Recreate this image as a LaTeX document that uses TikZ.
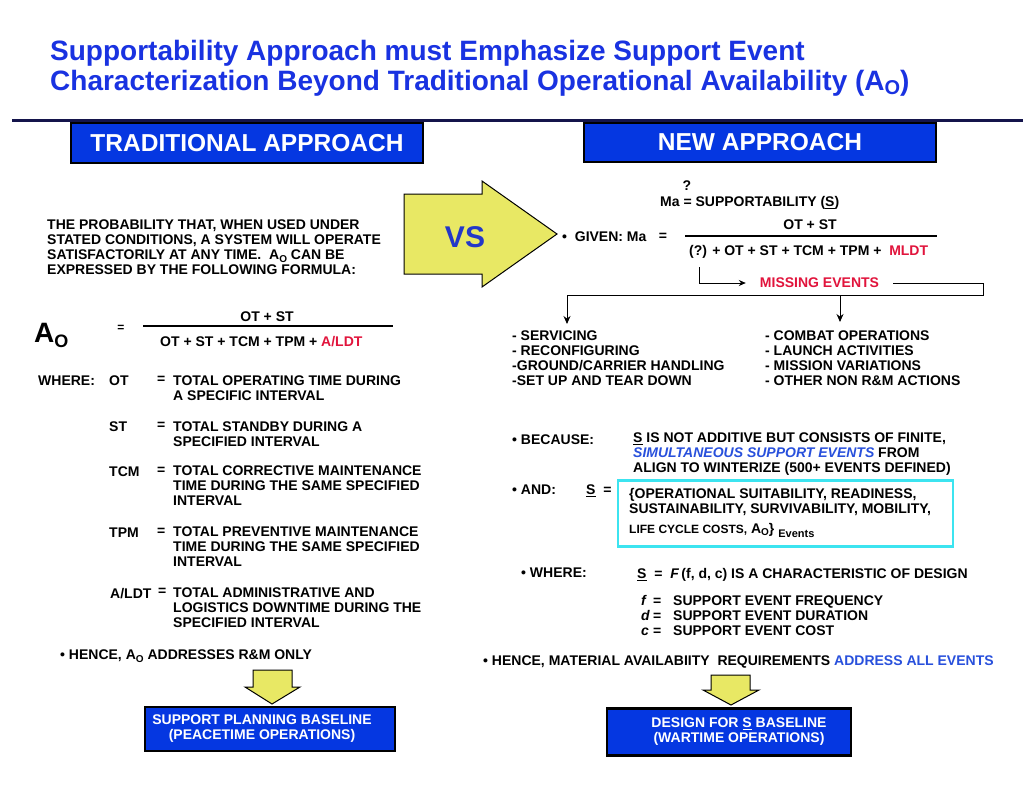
\documentclass[tikz,border=0pt]{standalone}
\usepackage{fontspec}
\setmainfont{Liberation Sans}
\usetikzlibrary{arrows.meta, positioning}
\definecolor{ttlblue}{RGB}{25,50,225}
\definecolor{vsblue}{RGB}{35,55,200}
\definecolor{boxblue}{RGB}{5,55,225}
\definecolor{simblue}{RGB}{40,80,220}
\definecolor{navy}{RGB}{20,20,75}
\definecolor{evred}{RGB}{225,20,60}
\definecolor{arrowyel}{RGB}{232,232,100}
\definecolor{setframe}{RGB}{60,228,240}
\newcommand{\AO}{A\raisebox{-2.5pt}{\fontsize{10}{10}\selectfont O}}

\begin{document}
\begin{tikzpicture}[x=1pt, y=-1pt, >=Stealth,
  font=\bfseries\fontsize{14}{15}\selectfont,
  txt/.style={inner sep=0pt, anchor=north west, align=left},
  hdr/.style={draw=black, line width=2.5pt, fill=boxblue, text=white, inner sep=0pt,
    font=\bfseries\fontsize{24.5}{26}\selectfont},
  basebox/.style={draw=black, line width=2.5pt, fill=boxblue, inner sep=0pt},
  boxtxt/.style={inner sep=0pt, text=white, align=center},
  fatarrow/.style={draw=black, line width=1pt, fill=arrowyel, line join=miter},
  link/.style={line width=1pt}]
\useasboundingbox (0,0) rectangle (1023,806);
\fill[white] (0,0) rectangle (1023,806);

% title and rule
\node[txt, text=ttlblue, font=\bfseries\fontsize{28}{30}\selectfont] (title) at (50,40)
  {Supportability Approach must Emphasize Support Event\\Characterization Beyond Traditional Operational Availability (A\raisebox{-4pt}{\fontsize{20}{20}\selectfont O})};
\draw[navy, line width=3pt] (12,120) -- (1023,120);

% headers
\node[hdr, minimum width=352pt, minimum height=40pt] (trad) at (247,143) {TRADITIONAL APPROACH};
\node[hdr, minimum width=352pt, minimum height=39pt] (new) at (760,142.5) {NEW APPROACH};

% vs arrow
\draw[fatarrow] (404,194) -- (482,194) -- (482,181) -- (557,234) -- (482,287) -- (482,274) -- (404,274) -- cycle;
\node[inner sep=0pt, text=vsblue, font=\bfseries\fontsize{30}{30}\selectfont] (vs) at (465,237) {VS};

% traditional side
\node[txt] (defn) at (47,220) {THE PROBABILITY THAT, WHEN USED UNDER\\STATED CONDITIONS, A SYSTEM WILL OPERATE\\SATISFACTORILY AT ANY TIME.\ \ \AO\ CAN BE\\EXPRESSED BY THE FOLLOWING FORMULA:};
\node[inner sep=0pt, anchor=base west, font=\bfseries\fontsize{28}{28}\selectfont] (ao) at (34,342)
  {A\raisebox{-5pt}{\fontsize{18}{18}\selectfont O}};
\node[inner sep=0pt, font=\bfseries\fontsize{12}{12}\selectfont] (aoeq) at (121,328) {=};
\coordinate (fa) at (143,326);
\coordinate (fb) at (393,326);
\draw[line width=2pt] (fa) -- (fb);
\node[inner sep=0pt] (aonum) at (267,317) {OT + ST};
\node[txt] (aoden) at (160,336) {OT + ST + TCM + TPM + \textcolor{evred}{A/LDT}};

\node[txt] (where) at (38,376) {WHERE:};
\node[txt] (lot) at (109,376) {OT};
\node[txt] (eot) at (157,376) {=};
\node[txt] (dot) at (173,376) {TOTAL OPERATING TIME DURING\\A SPECIFIC INTERVAL};
\node[txt] (lst) at (109,422) {ST};
\node[txt] (est) at (157,422) {=};
\node[txt] (dst) at (173,422) {TOTAL STANDBY DURING A\\SPECIFIED INTERVAL};
\node[txt] (ltcm) at (109,467) {TCM};
\node[txt] (etcm) at (157,467) {=};
\node[txt] (dtcm) at (173,466) {TOTAL CORRECTIVE MAINTENANCE\\TIME DURING THE SAME SPECIFIED\\INTERVAL};
\node[txt] (ltpm) at (109,528) {TPM};
\node[txt] (etpm) at (157,528) {=};
\node[txt] (dtpm) at (173,527) {TOTAL PREVENTIVE MAINTENANCE\\TIME DURING THE SAME SPECIFIED\\INTERVAL};
\node[txt] (lldt) at (110,588) {A/LDT};
\node[txt] (eldt) at (158,588) {=};
\node[txt] (dldt) at (173,588) {TOTAL ADMINISTRATIVE AND\\LOGISTICS DOWNTIME DURING THE\\SPECIFIED INTERVAL};
\node[txt] (hencel) at (60,650) {\textbullet\ HENCE, \AO\ ADDRESSES R\&M ONLY};

\draw[fatarrow] (253,670) -- (292,670) -- (292,687) -- (300,687) -- (272,704) -- (245,687) -- (253,687) -- cycle;
\node[basebox, minimum width=250pt, minimum height=44pt] (peace) at (270,729) {};
\node[boxtxt] (peacet) at ([xshift=-8pt]peace.center) {SUPPORT PLANNING BASELINE\\(PEACETIME OPERATIONS)};

% new side
\node[inner sep=0pt] (qmark) at (687,186) {?};
\node[txt] (ma) at (660,196) {Ma = SUPPORTABILITY (\underline{S})};
\node[txt] (given) at (562,232) {\textbullet\ \ GIVEN: Ma};
\node[inner sep=0pt] (geq) at (663,237) {=};
\coordinate (ga) at (685,236);
\coordinate (gb) at (937,236);
\draw[line width=2pt] (ga) -- (gb);
\node[inner sep=0pt] (manum) at (810,225) {OT + ST};
\node[txt] (maden) at (689,245) {(?) + OT + ST + TCM + TPM +\ \ \textcolor{evred}{MLDT}};

\coordinate (qq) at (699,267);
\node[inner xsep=14pt, inner ysep=0pt, text=evred] (miss) at (819.5,283) {MISSING EVENTS};
\draw[link, -{Stealth[length=7pt, width=6pt]}] (qq) |- (miss.west);
\coordinate (rc) at (983,295);
\coordinate (lc) at (567,295);
\coordinate (mc) at (840,295);
\coordinate (tl) at (567,324);
\coordinate (tm) at (840,322);
\draw[link] (miss.east) -| (rc) -- (lc);
\draw[link, -{Stealth[length=8pt, width=7pt]}] (lc) -- (tl);
\draw[link, -{Stealth[length=8pt, width=7pt]}] (mc) -- (tm);

\node[txt] (evl) at (512,331) {- SERVICING\\- RECONFIGURING\\-GROUND/CARRIER HANDLING\\-SET UP AND TEAR DOWN};
\node[txt] (evr) at (765,331) {- COMBAT OPERATIONS\\- LAUNCH ACTIVITIES\\- MISSION VARIATIONS\\- OTHER NON R\&M ACTIONS};

\node[txt] (bec) at (512,435) {\textbullet\ BECAUSE:};
\node[txt] (bect) at (633,432.5) {\underline{S} IS NOT ADDITIVE BUT CONSISTS OF FINITE,\\\textcolor{simblue}{\itshape SIMULTANEOUS SUPPORT EVENTS} FROM\\ALIGN TO WINTERIZE (500+ EVENTS DEFINED)};

\node[txt] (andb) at (512,485) {\textbullet\ AND:};
\node[txt] (seq) at (586,485) {\underline{S}\ \ =};
\node[draw=setframe, line width=2.5pt, minimum width=335pt, minimum height=66pt, inner sep=0pt] (sset) at (785.5,513.5) {};
\node[txt] (sstxt) at (629,488) {\{OPERATIONAL SUITABILITY, READINESS,\\SUSTAINABILITY, SURVIVABILITY, MOBILITY,\\[5pt]{\fontsize{12}{12}\selectfont LIFE CYCLE COSTS,} \AO\}\ {\fontsize{11}{11}\selectfont\raisebox{-4pt}{Events}}};

\node[txt] (whr) at (521,568) {\textbullet\ WHERE:};
\node[txt] (whrt) at (637,568) {\underline{S}\ \ =\ \ \textit{F}\,(f, d, c) IS A CHARACTERISTIC OF DESIGN};
\node[txt] (fdc) at (641,595) {\makebox[12pt][l]{\textit{f}}\makebox[20pt][l]{=}SUPPORT EVENT FREQUENCY\\\makebox[12pt][l]{\textit{d}}\makebox[20pt][l]{=}SUPPORT EVENT DURATION\\\makebox[12pt][l]{\textit{c}}\makebox[20pt][l]{=}SUPPORT EVENT COST};
\node[txt] (hencer) at (483,656) {\textbullet\ HENCE, MATERIAL AVAILABIITY\ \ REQUIREMENTS \textcolor{simblue}{ADDRESS ALL EVENTS}};

\draw[fatarrow] (711,675) -- (750,675) -- (750,690) -- (759,690) -- (731,705) -- (703,690) -- (711,690) -- cycle;
\node[basebox, minimum width=244pt, minimum height=47pt] (war) at (729,732) {};
\node[boxtxt] (wart) at ([xshift=10pt]war.center) {DESIGN FOR \underline{S} BASELINE\\(WARTIME OPERATIONS)};
\end{tikzpicture}
\end{document}
